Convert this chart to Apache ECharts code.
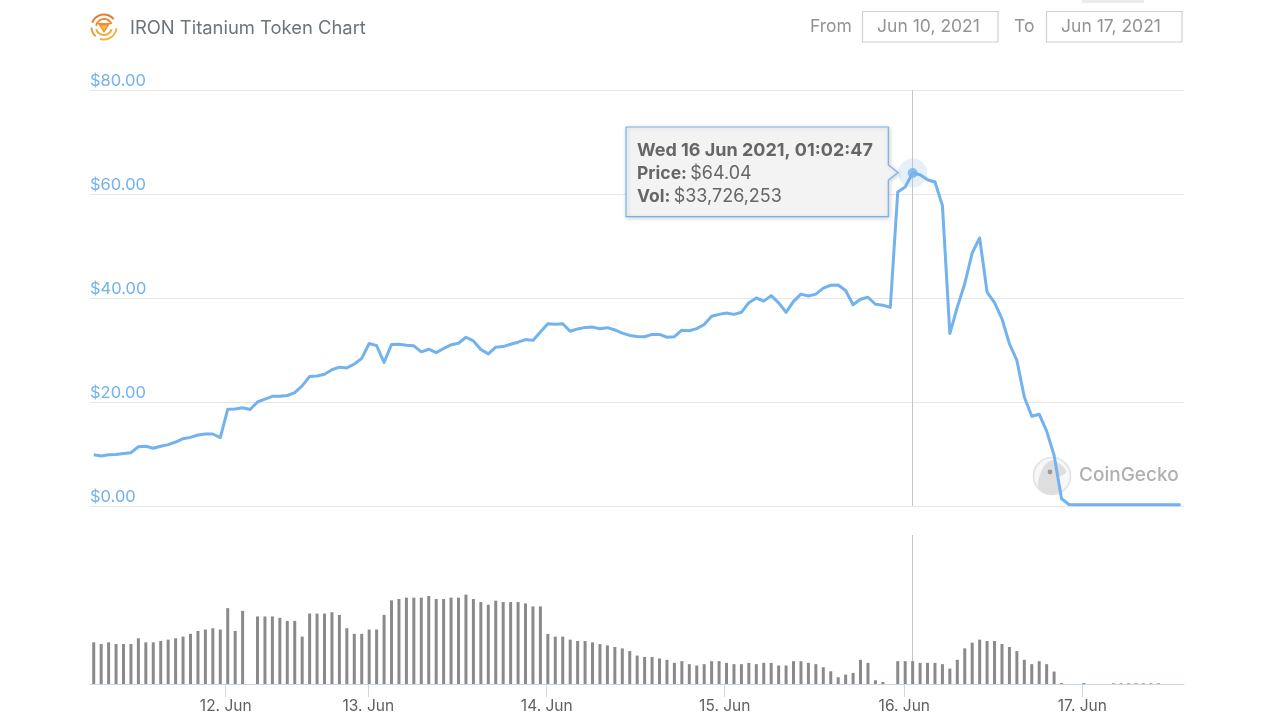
<!DOCTYPE html>
<html>
<head>
<meta charset="utf-8">
<title>IRON Titanium Token Chart</title>
<script src="https://cdn.jsdelivr.net/npm/echarts@6/dist/echarts.min.js"></script>
<style>
html, body { margin: 0; padding: 0; background: #fff; }
#chart { width: 1280px; height: 720px; }
</style>
</head>
<body>
<div id="chart"></div>
<script>
// one entry per sample on the (ordinal) time axis
const priceValues = [
    9.87, 9.6, 9.87, 9.9, 10.1, 10.25, 11.4, 11.5, 11.1, 11.5,
    11.8, 12.3, 12.95, 13.2, 13.65, 13.85, 13.85, 13.15, 18.6, 18.65,
    18.9, 18.55, 20, 20.55, 21.1, 21.1, 21.25, 21.8, 23.1, 24.9,
    25, 25.35, 26.2, 26.7, 26.55, 27.3, 28.4, 31.25, 30.85, 27.6,
    31.05, 31.1, 30.9, 30.8, 29.65, 30.15, 29.5, 30.3, 31, 31.3,
    32.45, 31.75, 30.1, 29.25, 30.55, 30.65, 31.1, 31.5, 32, 31.85,
    33.45, 35.05, 34.95, 35.05, 33.6, 34.05, 34.35, 34.4, 34.1, 34.3,
    33.85, 33.25, 32.8, 32.6, 32.55, 33, 33, 32.45, 32.55, 33.8,
    33.7, 34.1, 34.9, 36.5, 36.85, 37.1, 36.85, 37.25, 39.1, 40,
    39.4, 40.45, 39.05, 37.25, 39.35, 40.75, 40.4, 40.75, 41.9, 42.45,
    42.5, 41.45, 38.7, 39.75, 40.15, 38.8, 38.6, 38.2, 60.4, 61.35,
    64.04, 63.7, 62.75, 62.3, 57.8, 33.15, 38.25, 42.75, 48.65, 51.55,
    41.15, 39.1, 36, 31.2, 28, 20.95, 17.25, 17.65, 14.4, 9.75,
    1.4, 0.3, 0.25, 0.25, 0.25, 0.25, 0.25, 0.25, 0.25, 0.25,
    0.25, 0.25, 0.25, 0.25, 0.25, 0.25, 0.25
]
// volume in $ millions, null where no bar shows
const volumeValues = [
    61.5, 59, 61.5, 59, 59, 59, 67.5, 61.5, 61.5, 63.5,
    65.5, 67.5, 70, 74, 78.4, 80.4, 82.3, 80.4, 112, 78.4,
    108, null, 99.7, 99.7, 99.7, 97.7, 93.2, 93.2, 70, 104,
    104, 104, 106, 102, 82.3, 74, 74, 80.4, 80.4, 102,
    123.5, 125.5, 127.5, 127.5, 127.5, 130, 125.5, 125.5, 127.5, 127.5,
    132, 125.5, 121, 117, 123, 121, 121, 121, 119, 114.6,
    114.6, 74, 70, 70, 65.5, 63.5, 63.5, 61.5, 59, 57,
    54.6, 52.6, 48.6, 42, 40, 40, 37.7, 35.7, 31.2, 33.7,
    29.3, 27.3, 29.3, 33.7, 33.7, 31.2, 29.3, 29.3, 31.2, 29.3,
    31.2, 31.2, 27.3, 27.3, 33.7, 33.7, 31.2, 29.3, 24.8, 18.8,
    10, 13.9, 16.4, 35.7, 31.2, 5.5, 3, null, 33.7, 33.7,
    33.7, 31.2, 31.2, 31.2, 29.3, 22.8, 35.7, 52.6, 61, 65.5,
    63.5, 63.5, 59, 54.6, 48.6, 35.7, 29.3, 33.7, 29.3, 18.4,
    1.5, null, null, 1.5, null, null, null, 1, 1, 1,
    1, 1, 1, 1, null, null, null
]
const dayLabels = ['12. Jun', '13. Jun', '14. Jun', '15. Jun', '16. Jun', '17. Jun']
const dayPositions = [17.73, 36.88, 60.85, 84.76, 108.88, 132.79]
const priceTicks = { min: 0, max: 80, interval: 20 }
const hoverIndex = 110
const hoverPrice = 64.04

const FONT = 'Inter, "Noto Sans", sans-serif'
const LINE_BLUE = '#72b2ee'
const X_MIN = -0.5
const X_MAX = 146.45

const chart = echarts.init(document.getElementById('chart'))

const dayLabel = (v) => dayLabels[dayPositions.indexOf(v)]

const crosshair = {
    silent: true,
    symbol: 'none',
    label: { show: false },
    animation: false,
    lineStyle: { color: '#c4c4c4', width: 1, type: 'solid' },
    data: [{ xAxis: hoverIndex }]
}

const graphicText = (x, y, text, size, color, extra) => ({
    type: 'text',
    x,
    y,
    style: Object.assign(
        { text, fill: color, font: `${size}px ${FONT}`, textVerticalAlign: 'middle' },
        extra || {}
    )
})

const dateBox = (x, width, text, textX) => ([
    {
        type: 'rect',
        shape: { x, y: 11.5, width, height: 30.5 },
        style: { fill: '#fff', stroke: '#cfcfcf', lineWidth: 1.2 }
    },
    graphicText(textX, 26.5, text, 17.5, '#939393', { textAlign: 'center' })
])

const logo = [
    { shape: { r: 12.5, startAngle: 3.5, endAngle: 5.6 }, stroke: '#e8792f' },
    { shape: { r: 12.5, startAngle: 0.1, endAngle: 1.9 }, stroke: '#f2b23f' },
    { shape: { r: 12.5, startAngle: 2.3, endAngle: 3.1 }, stroke: '#ee9a35' },
    { shape: { r: 8, startAngle: 3.3, endAngle: 5.9 }, stroke: '#ed8b34' },
    { shape: { r: 8, startAngle: 0.3, endAngle: 2.9 }, stroke: '#f1ac3c' }
].map((a) => ({
    type: 'arc',
    shape: Object.assign({ cx: 104, cy: 27 }, a.shape),
    style: { stroke: a.stroke, lineWidth: 2, fill: null }
}))

const option = {
    backgroundColor: '#fff',
    animation: false,
    textStyle: { fontFamily: FONT },
    grid: [
        { left: 90, right: 96, top: 90, height: 416 },
        { left: 90, right: 96, top: 535, height: 149 }
    ],
    xAxis: [
        { type: 'value', gridIndex: 0, min: X_MIN, max: X_MAX, show: false, splitLine: { show: false } },
        {
            type: 'value',
            gridIndex: 1,
            min: X_MIN,
            max: X_MAX,
            splitLine: { show: false },
            axisLine: { show: true, onZero: false, lineStyle: { color: '#ccd6eb', width: 1 } },
            axisTick: { show: true, length: 13, customValues: dayPositions, lineStyle: { color: '#ccd6eb', width: 1 } },
            axisLabel: {
                customValues: dayPositions,
                formatter: dayLabel,
                color: '#606060',
                fontFamily: FONT,
                fontSize: 15.5,
                margin: 14
            }
        }
    ],
    yAxis: [
        {
            type: 'value',
            gridIndex: 0,
            min: priceTicks.min,
            max: priceTicks.max,
            interval: priceTicks.interval,
            axisLine: { show: false },
            axisTick: { show: false },
            splitLine: { lineStyle: { color: '#e6e6e6', width: 1 } },
            axisLabel: {
                inside: true,
                margin: 0,
                align: 'left',
                verticalAlign: 'bottom',
                color: LINE_BLUE,
                fontFamily: FONT,
                fontSize: 16.5,
                lineHeight: 18,
                formatter: (v) => '$' + v.toFixed(2)
            }
        },
        { type: 'value', gridIndex: 1, min: 0, max: 220, show: false, splitLine: { show: false } }
    ],
    series: [
        {
            name: 'Price',
            type: 'line',
            xAxisIndex: 0,
            yAxisIndex: 0,
            z: 3,
            symbol: 'none',
            lineStyle: { color: LINE_BLUE, width: 3, join: 'round' },
            data: priceValues.map((v, i) => [i, v]),
            markLine: crosshair
        },
        {
            name: 'Hover halo',
            type: 'scatter',
            xAxisIndex: 0,
            yAxisIndex: 0,
            z: 4,
            symbolSize: 29,
            itemStyle: { color: 'rgba(124,181,236,0.25)' },
            data: [[hoverIndex, hoverPrice]]
        },
        {
            name: 'Hover point',
            type: 'scatter',
            xAxisIndex: 0,
            yAxisIndex: 0,
            z: 5,
            symbolSize: 10,
            itemStyle: { color: LINE_BLUE },
            data: [[hoverIndex, hoverPrice]]
        },
        {
            name: 'Vol',
            type: 'bar',
            xAxisIndex: 1,
            yAxisIndex: 1,
            z: 3,
            barWidth: 3,
            itemStyle: { color: '#8a8a8a' },
            data: volumeValues.map((v, i) => [i, v]),
            markLine: Object.assign({}, crosshair, { z: 1 })
        }
    ],
    graphic: { elements: [
        // scrap of the page above the date pickers
        { type: 'rect', shape: { x: 1082, y: 0, width: 62, height: 3 }, style: { fill: '#ebebeb' } },

        // header
        ...logo,
        { type: 'polygon', shape: { points: [[97.5, 23], [110.5, 23], [104, 33]] }, style: { fill: '#ef8f33' } },
        { type: 'polygon', shape: { points: [[101, 25.5], [107, 25.5], [104, 30.5]] }, style: { fill: '#f6c04a' } },
        graphicText(130, 28, 'IRON Titanium Token Chart', 18.4, '#6c757d'),
        graphicText(810, 26.5, 'From', 17.5, '#939393'),
        graphicText(1014, 26.5, 'To', 17.5, '#939393'),
        ...dateBox(862.5, 135.5, 'Jun 10, 2021', 928.5),
        ...dateBox(1046.5, 135.5, 'Jun 17, 2021', 1111),

        // CoinGecko watermark
        { type: 'circle', shape: { cx: 1052, cy: 476, r: 18.5 }, style: { fill: '#f7f7f7', stroke: '#e2e2e2', lineWidth: 1.6 } },
        {
            type: 'polygon',
            shape: {
                smooth: 0.4,
                points: [[1039, 488], [1041, 472], [1050, 461], [1060, 464], [1066, 472], [1059, 478], [1061, 490], [1050, 494]]
            },
            style: { fill: '#dedede' }
        },
        { type: 'circle', shape: { cx: 1050, cy: 472, r: 2.4 }, style: { fill: '#9a9a9a' } },
        graphicText(1079, 475.5, 'CoinGecko', 19, '#b0b0b0', { font: `500 19px ${FONT}` }),

        // hover tooltip
        {
            type: 'polygon',
            z: 20,
            shape: { points: [[626, 127], [888.3, 127], [888.3, 165], [898, 172.5], [888.3, 180], [888.3, 216.7], [626, 216.7]] },
            style: {
                fill: 'rgba(244,244,244,0.96)',
                stroke: LINE_BLUE,
                lineWidth: 1.2,
                shadowColor: 'rgba(0,0,0,0.18)',
                shadowBlur: 4,
                shadowOffsetX: 1,
                shadowOffsetY: 1
            }
        },
        {
            type: 'text',
            z: 21,
            x: 637,
            y: 150.5,
            style: { text: 'Wed 16 Jun 2021, 01:02:47', fill: '#666666', font: `bold 18px ${FONT}`, textVerticalAlign: 'middle' }
        },
        {
            type: 'text',
            z: 21,
            x: 637,
            y: 173.5,
            style: {
                text: '{b|Price:} {v|$64.04}',
                textVerticalAlign: 'middle',
                rich: {
                    b: { fill: '#666666', font: `bold 17.5px ${FONT}` },
                    v: { fill: '#666666', font: `18px ${FONT}` }
                }
            }
        },
        {
            type: 'text',
            z: 21,
            x: 637,
            y: 196.5,
            style: {
                text: '{b|Vol:} {v|$33,726,253}',
                textVerticalAlign: 'middle',
                rich: {
                    b: { fill: '#666666', font: `bold 17.5px ${FONT}` },
                    v: { fill: '#666666', font: `18px ${FONT}` }
                }
            }
        }
    ] }
}

chart.setOption(option)
</script>
</body>
</html>
